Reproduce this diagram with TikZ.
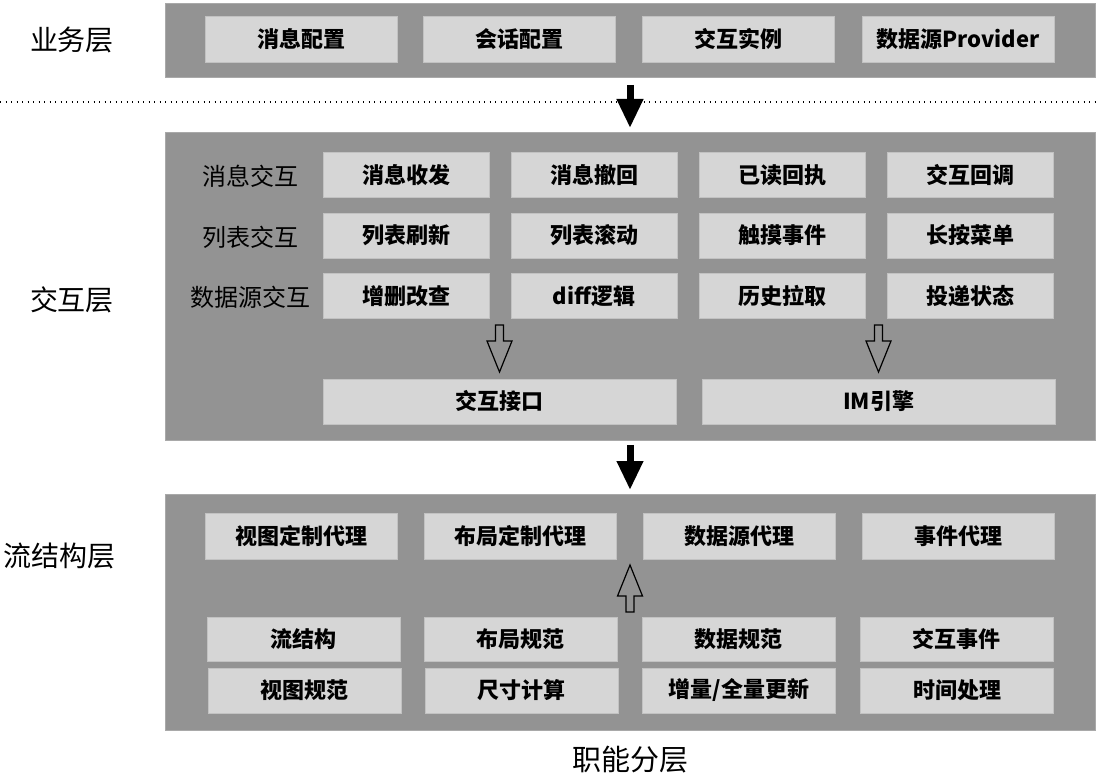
\documentclass[tikz,border=0pt]{standalone}
\usepackage{fontspec}
\setmainfont{Noto Sans CJK SC}
\usetikzlibrary{arrows.meta,calc}
\definecolor{panelgray}{HTML}{939393}
\definecolor{boxgray}{HTML}{D6D6D6}
\definecolor{boxedge}{HTML}{C2C2C2}

\begin{document}
\begin{tikzpicture}[
                x=1pt, y=-1pt, % pixel coordinates, y pointing down
                every node/.style={inner sep=0pt, outer sep=0pt},
                panel/.style={fill=panelgray, draw=panelgray!80!white, line width=0.6pt, minimum width=930pt},
                cell/.style={fill=boxgray, draw=boxedge, line width=0.8pt, font=\fontsize{22}{26}\selectfont\bfseries},
                layer/.style={font=\fontsize{28}{32}\selectfont},
                rowlabel/.style={font=\fontsize{24}{28}\selectfont},
                dotline/.style={line width=1.4pt, dash pattern=on 1.4pt off 4.1pt},
                blackarrow/.style={line width=7pt, -{Triangle[length=29pt, width=25pt]}},
                hollow/.style={draw=black, fill=panelgray, line width=1.2pt, line join=miter},
                hollowdown/.pic={
                    \draw[hollow] (-4,0) -- (-4,16) -- (-12.5,16) -- (0,47) -- (12.5,16) -- (4,16) -- (4,0) -- cycle;
                },
                hollowup/.pic={
                    \draw[hollow] (-4,0) -- (-4,-16) -- (-12.5,-16) -- (0,-47) -- (12.5,-16) -- (4,-16) -- (4,0) -- cycle;
                }
            ]

            \useasboundingbox (0,0) rectangle (1098,783);

            % business layer
            \node[panel, minimum height=74pt] (bizpanel) at (630,40) {};
            \node[layer] (bizlabel) at (72,40) {业务层};
            \node[cell, minimum width=192pt, minimum height=46pt] (msgcfg) at (301,39) {消息配置};
            \node[cell, minimum width=192pt, minimum height=46pt] (sesscfg) at (519,39) {会话配置};
            \node[cell, minimum width=192pt, minimum height=46pt] (interinst) at (738,39) {交互实例};
            \node[cell, minimum width=192pt, minimum height=46pt] (provider) at (958,39) {数据源Provider};

            \draw[dotline] (0,102) -- (1098,102);

            % interaction layer
            \node[panel, minimum height=308pt] (interpanel) at (630,286) {};
            \node[layer] (interlabel) at (72,300) {交互层};

            \node[rowlabel] (msgrow) at (250,176) {消息交互};
            \node[cell, minimum width=166pt, minimum height=45pt] (msgsend) at (406,175) {消息收发};
            \node[cell, minimum width=166pt, minimum height=45pt] (msgrecall) at (594,175) {消息撤回};
            \node[cell, minimum width=166pt, minimum height=45pt] (readack) at (782,175) {已读回执};
            \node[cell, minimum width=166pt, minimum height=45pt] (callback) at (970,175) {交互回调};

            \node[rowlabel] (listrow) at (250,237) {列表交互};
            \node[cell, minimum width=166pt, minimum height=45pt] (listrefresh) at (406,235.5) {列表刷新};
            \node[cell, minimum width=166pt, minimum height=45pt] (listscroll) at (594,235.5) {列表滚动};
            \node[cell, minimum width=166pt, minimum height=45pt] (touch) at (782,235.5) {触摸事件};
            \node[cell, minimum width=166pt, minimum height=45pt] (longpress) at (970,235.5) {长按菜单};

            \node[rowlabel] (datarow) at (250,297) {数据源交互};
            \node[cell, minimum width=166pt, minimum height=45pt] (crud) at (406,296) {增删改查};
            \node[cell, minimum width=166pt, minimum height=45pt] (difflogic) at (594,296) {diff逻辑};
            \node[cell, minimum width=166pt, minimum height=45pt] (history) at (782,296) {历史拉取};
            \node[cell, minimum width=166pt, minimum height=45pt] (delivery) at (970,296) {投递状态};

            \node[cell, minimum width=353pt, minimum height=45pt] (api) at (499.5,401.5) {交互接口};
            \node[cell, minimum width=353pt, minimum height=45pt] (imengine) at (878.5,401.5) {IM引擎};
            \pic at ($(api.north)+(0,-54)$) {hollowdown};
            \pic at ($(imengine.north)+(0,-54)$) {hollowdown};

            % flow structure layer
            \node[panel, minimum height=236pt] (flowpanel) at (630,612) {};
            \node[layer] (flowlabel) at (59,556) {流结构层};

            \node[cell, minimum width=192pt, minimum height=46pt] (viewproxy) at (301,536) {视图定制代理};
            \node[cell, minimum width=192pt, minimum height=46pt] (layoutproxy) at (520,536) {布局定制代理};
            \node[cell, minimum width=192pt, minimum height=46pt] (dataproxy) at (739,536) {数据源代理};
            \node[cell, minimum width=192pt, minimum height=46pt] (eventproxy) at (958,536) {事件代理};
            \pic at (flowpanel.center) {hollowup};

            \node[cell, minimum width=193pt, minimum height=44pt] (flow) at (303.5,639) {流结构};
            \node[cell, minimum width=193pt, minimum height=44pt] (layoutspec) at (520.5,639) {布局规范};
            \node[cell, minimum width=193pt, minimum height=44pt] (dataspec) at (738.5,639) {数据规范};
            \node[cell, minimum width=193pt, minimum height=44pt] (interevent) at (956.5,639) {交互事件};

            \node[cell, minimum width=193pt, minimum height=45pt] (viewspec) at (304.5,690.5) {视图规范};
            \node[cell, minimum width=193pt, minimum height=45pt] (sizecalc) at (521.5,690.5) {尺寸计算};
            \node[cell, minimum width=193pt, minimum height=45pt] (update) at (739,690.5) {增量/全量更新};
            \node[cell, minimum width=193pt, minimum height=45pt] (timeproc) at (957,690.5) {时间处理};

            \node[font=\fontsize{29}{33}\selectfont] (caption) at (630,760) {职能分层};

            % layer arrows
            \draw[blackarrow, shorten <=8pt, shorten >=4pt] (bizpanel) -- (interpanel);
            \draw[blackarrow, shorten <=5pt, shorten >=4pt] (interpanel) -- (flowpanel);

        \end{tikzpicture}
\end{document}
